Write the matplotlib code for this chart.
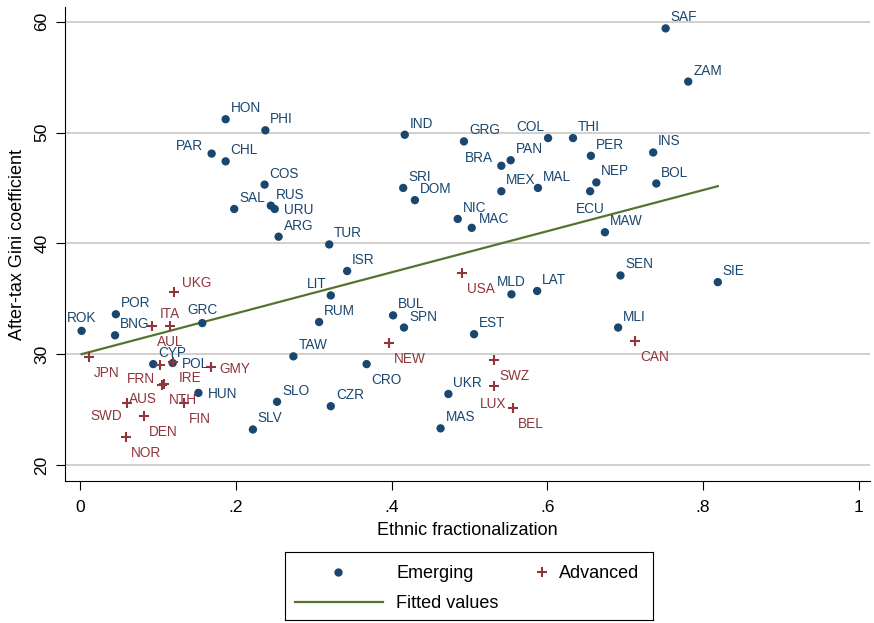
import numpy as np
import matplotlib
matplotlib.use("Agg")
import matplotlib.pyplot as plt

plt.rcParams['font.family'] = ['Liberation Sans', 'DejaVu Sans']

# ---------------- data ----------------
em_labels = ["SAF", "ZAM", "HON", "PHI", "PAR", "CHL", "COS", "SAL", "RUS", "URU",
             "ARG", "TUR", "IND", "GRG", "COL", "THI", "PER", "INS", "BRA", "PAN",
             "SRI", "DOM", "MEX", "MAL", "NEP", "ECU", "BOL", "NIC", "MAC", "MAW",
             "SEN", "SIE", "ISR", "LIT", "RUM", "BUL", "SPN", "TAW", "CRO", "SLO",
             "CZR", "SLV", "MLD", "LAT", "EST", "MLI", "UKR", "MAS", "POR", "ROK",
             "BNG", "GRC", "CYP", "POL", "HUN"]
em_x = [0.752, 0.781, 0.187, 0.238, 0.169, 0.187, 0.237, 0.198, 0.245, 0.250,
        0.255, 0.320, 0.417, 0.493, 0.601, 0.633, 0.656, 0.736, 0.541, 0.553,
        0.415, 0.430, 0.541, 0.588, 0.663, 0.655, 0.740, 0.485, 0.503, 0.674,
        0.694, 0.819, 0.343, 0.322, 0.307, 0.402, 0.416, 0.274, 0.368, 0.253,
        0.322, 0.222, 0.554, 0.587, 0.506, 0.691, 0.473, 0.463, 0.046, 0.002,
        0.045, 0.157, 0.094, 0.119, 0.152]
em_y = [59.4, 54.6, 51.2, 50.2, 48.1, 47.4, 45.3, 43.1, 43.4, 43.1,
        40.6, 39.9, 49.8, 49.2, 49.5, 49.5, 47.9, 48.2, 47.0, 47.5,
        45.0, 43.9, 44.7, 45.0, 45.5, 44.7, 45.4, 42.2, 41.4, 41.0,
        37.1, 36.5, 37.5, 35.3, 32.9, 33.5, 32.4, 29.8, 29.1, 25.7,
        25.3, 23.2, 35.4, 35.7, 31.8, 32.4, 26.4, 23.3, 33.6, 32.1,
        31.7, 32.8, 29.1, 29.2, 26.5]

adv_labels = ["UKG", "ITA", "AUL", "JPN", "FRN", "IRE", "GMY", "NTH", "AUS", "SWD",
              "FIN", "DEN", "NOR", "USA", "NEW", "CAN", "SWZ", "LUX", "BEL"]
adv_x = [0.121, 0.115, 0.092, 0.012, 0.103, 0.120, 0.168, 0.108, 0.105, 0.060,
         0.133, 0.082, 0.059, 0.491, 0.397, 0.713, 0.532, 0.531, 0.556]
adv_y = [35.6, 32.5, 32.5, 29.7, 29.0, 29.3, 28.8, 27.3, 27.2, 25.6,
         25.6, 24.4, 22.5, 37.3, 31.0, 31.2, 29.5, 27.1, 25.1]

x_ticks = [0, 0.2, 0.4, 0.6, 0.8, 1.0]
x_ticklabels = ["0", ".2", ".4", ".6", ".8", "1"]
y_ticks = [20, 30, 40, 50, 60]
y_ticklabels = ["20", "30", "40", "50", "60"]

# ---------------- label placement (clock positions) ----------------
label_clock = {"PAR": 10, "BRA": 10, "URU": 3, "COL": 11, "LIT": 11, "ECU": 6,
               "MAC": 2, "CRO": 5, "MLD": 12, "ROK": 12, "GRC": 12, "POL": 3,
               "HUN": 3, "UKG": 2, "ITA": 12, "AUL": 5, "JPN": 5, "FRN": 7,
               "IRE": 5, "GMY": 3, "NTH": 5, "AUS": 7, "SWD": 7, "FIN": 5,
               "DEN": 5, "NOR": 5, "USA": 5, "NEW": 5, "CAN": 5, "SWZ": 5,
               "LUX": 6, "BEL": 5}
# offsets in pixels: (dx, dy downwards, ha)
clock_off = {1: (5, -7, 'left'), 12: (0, -8.7, 'center'), 11: (-4, -7, 'right'),
             10: (-8.5, -4, 'right'), 2: (7.5, -4.7, 'left'), 3: (9, 5.3, 'left'),
             5: (4.8, 20, 'left'), 6: (0, 21.5, 'center'), 7: (-5, 17.5, 'right')}

BLUE = '#1a476f'
RED = '#90353b'
GREEN = '#55752f'

W, H = 874, 623
fig = plt.figure(figsize=(W / 100, H / 100), dpi=100)
ax = fig.add_axes([65 / W, 1 - 481 / H, (870 - 65) / W, (481 - 7) / H])

ax.set_xlim(-0.0193, 1.0144)
ax.set_ylim(18.55, 61.33)

ax.yaxis.grid(True, color='#c8c8c8', lw=1.2)
ax.set_axisbelow(True)

# fitted line (OLS over all countries)
x_all = np.array(em_x + adv_x)
y_all = np.array(em_y + adv_y)
b1, b0 = np.polyfit(x_all, y_all, 1)
xs = np.array([x_all.min(), x_all.max()])
ax.plot(xs, b0 + b1 * xs, color=GREEN, lw=1.6, zorder=2)

ax.scatter(em_x, em_y, s=36, color=BLUE, edgecolors='none', zorder=3)
ax.scatter(adv_x, adv_y, marker='+', s=55, color=RED, linewidths=1.5, zorder=3)

def place(labels, xv, yv, color):
    for lab, x, y in zip(labels, xv, yv):
        dx, dy, ha = clock_off[label_clock.get(lab, 1)]
        ax.annotate(lab, (x, y), xytext=(dx * 0.72, -dy * 0.72),
                    textcoords='offset points', ha=ha, va='baseline',
                    fontsize=9.8, color=color, zorder=4)

place(em_labels, em_x, em_y, BLUE)
place(adv_labels, adv_x, adv_y, RED)

ax.set_xticks(x_ticks)
ax.set_xticklabels(x_ticklabels)
ax.set_yticks(y_ticks)
ax.set_yticklabels(y_ticklabels, rotation=90, va='center')
ax.tick_params(axis='both', labelsize=12.5, length=6.5, width=0.8, colors='black')
ax.tick_params(axis='x', pad=7)
ax.tick_params(axis='y', pad=4.8)
for s in ['top', 'right']:
    ax.spines[s].set_visible(False)
for s in ['left', 'bottom']:
    ax.spines[s].set_linewidth(0.8)

ax.set_xlabel("Ethnic fractionalization", fontsize=13, labelpad=5)
ax.set_ylabel("After-tax Gini coefficient", fontsize=13, labelpad=6)

# ---------------- legend ----------------
lx0, ly0, lx1, ly1 = 285, 552, 653, 620
lax = fig.add_axes([lx0 / W, 1 - ly1 / H, (lx1 - lx0) / W, (ly1 - ly0) / H])
lax.set_xlim(0, lx1 - lx0)
lax.set_ylim(ly1 - ly0, 0)
lax.set_xticks([])
lax.set_yticks([])
for s in lax.spines.values():
    s.set_linewidth(0.8)
r1, r2 = 19.7, 49.7
lax.plot([53.3], [r1], 'o', color=BLUE, ms=6, mec='none')
lax.plot([256.7], [r1], '+', color=RED, ms=7.5, mew=1.5)
lax.plot([10, 98], [r2, r2], color=GREEN, lw=1.6)
lax.text(111, r1 + 6, "Emerging", fontsize=13, va='baseline', ha='left')
lax.text(274, r1 + 6, "Advanced", fontsize=13, va='baseline', ha='left')
lax.text(111, r2 + 6, "Fitted values", fontsize=13, va='baseline', ha='left')

fig.savefig("out.png", dpi=100)
